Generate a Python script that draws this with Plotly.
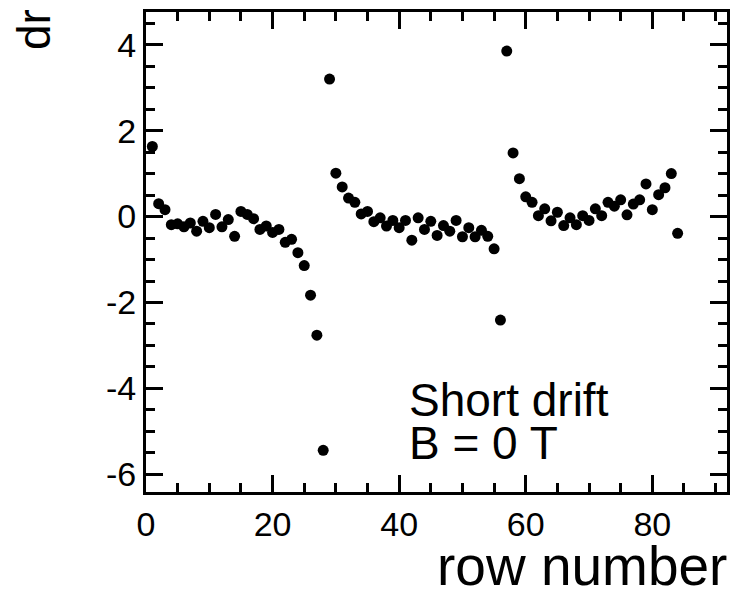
import plotly.graph_objects as go

row_number = list(range(1, 85))
dr = [1.63, 0.30, 0.16, -0.19, -0.17, -0.24, -0.15, -0.34, -0.11, -0.26,
      0.05, -0.24, -0.07, -0.46, 0.12, 0.05, -0.05, -0.30, -0.22, -0.37,
      -0.30, -0.60, -0.53, -0.84, -1.14, -1.83, -2.76, -5.44, 3.20, 1.01,
      0.69, 0.43, 0.33, 0.06, 0.12, -0.12, -0.03, -0.22, -0.09, -0.26,
      -0.09, -0.55, -0.03, -0.30, -0.11, -0.44, -0.21, -0.34, -0.09, -0.47,
      -0.26, -0.47, -0.32, -0.46, -0.75, -2.41, 3.85, 1.48, 0.88, 0.46,
      0.33, 0.02, 0.18, -0.10, 0.10, -0.21, -0.03, -0.19, 0.02, -0.09,
      0.18, 0.02, 0.33, 0.24, 0.39, 0.04, 0.29, 0.39, 0.76, 0.16,
      0.51, 0.67, 1.00, -0.39]

x_ticks = [0, 20, 40, 60, 80]
y_ticks = [-6, -4, -2, 0, 2, 4]

FONT = "Liberation Sans, Arial, Helvetica, sans-serif"
W, H = 731, 595
L, R, T, B = 146, 4, 12, 103
pw, ph = W - L - R, H - T - B


def px(xp):
    return (xp - L) / pw


def py(yp):
    return 1 - (yp - T) / ph


fig = go.Figure()
fig.add_trace(go.Scatter(
    x=row_number, y=dr, mode="markers",
    marker=dict(color="black", size=11, line=dict(width=0)),
    cliponaxis=True, showlegend=False,
))

axis_common = dict(
    showgrid=False, zeroline=False, showline=True, linecolor="black",
    linewidth=3, mirror="ticks", ticks="inside", ticklen=17, tickwidth=3,
    tickcolor="black", tickfont=dict(family=FONT, size=34, color="black"),
    automargin=False,
)

fig.update_xaxes(
    range=[0, 91.8], tickvals=x_ticks, ticktext=[str(v) for v in x_ticks],
    minor=dict(ticks="inside", ticklen=9, tickwidth=3, dtick=5, tick0=0,
               tickcolor="black"),
    **axis_common,
)
fig.update_yaxes(
    range=[-6.41, 4.76], tickvals=y_ticks, ticktext=[str(v) for v in y_ticks],
    minor=dict(ticks="inside", ticklen=9, tickwidth=3, dtick=0.5, tick0=0,
               tickcolor="black"),
    **axis_common,
)

annos = [
    dict(text="Short drift", x=px(407), y=py(400), xanchor="left", yanchor="middle",
         font=dict(family=FONT, size=46, color="black")),
    dict(text="B = 0 T", x=px(407), y=py(443), xanchor="left", yanchor="middle",
         font=dict(family=FONT, size=46, color="black")),
    dict(text="row number", x=px(729), y=py(566), xanchor="right", yanchor="middle",
         font=dict(family=FONT, size=55, color="black")),
    dict(text="dr", x=px(34), y=py(30), xanchor="center", yanchor="middle",
         textangle=-90, font=dict(family=FONT, size=46, color="black")),
]
for a in annos:
    a.update(xref="paper", yref="paper", showarrow=False)
fig.update_layout(
    width=W, height=H, margin=dict(l=L, r=R, t=T, b=B, autoexpand=False),
    paper_bgcolor="white", plot_bgcolor="white",
    annotations=annos,
)
fig.write_html("out.html", config={"displayModeBar": False},
               post_script="document.body.style.margin='0px';document.body.style.overflow='hidden';")
